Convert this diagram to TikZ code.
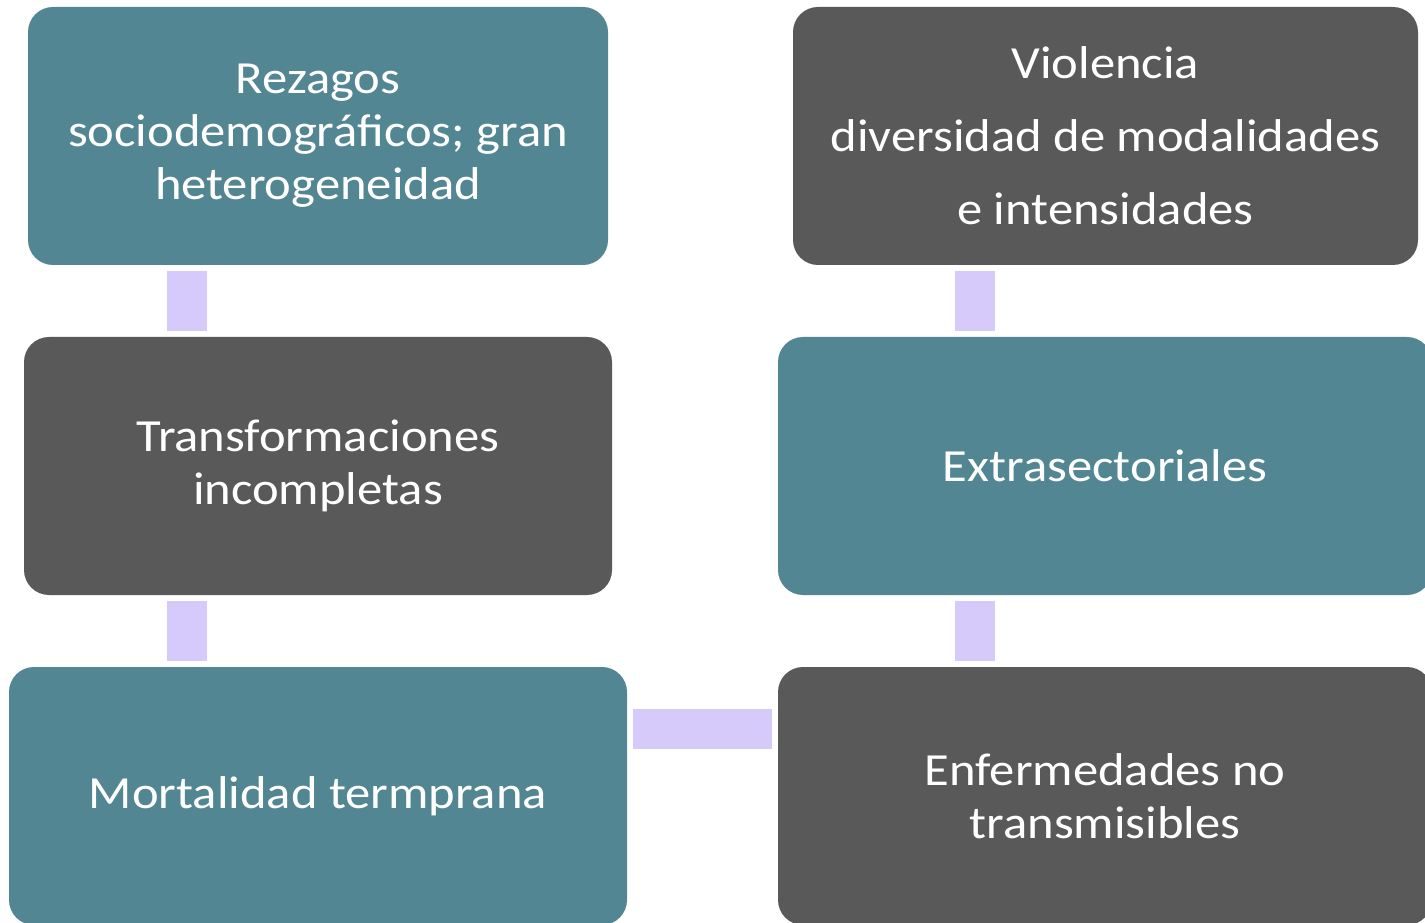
\documentclass[tikz,border=0pt]{standalone}
\usepackage{fontspec}
\setmainfont[FakeStretch=1.1]{Carlito}
\usepackage{tikz}
\usetikzlibrary{positioning,calc}
\definecolor{teal}{HTML}{528692}
\definecolor{slate}{HTML}{595959}
\definecolor{lilac}{HTML}{D5CAFA}

\begin{document}
\begin{tikzpicture}[
  x=0.75pt,y=-0.75pt,
  font=\fontsize{34.5pt}{39.75pt}\selectfont,
  box/.style={rounded corners=18.75pt,align=center,text=white,minimum height=193.5pt,inner sep=0pt},
  tealbox/.style={box,fill=teal},
  greybox/.style={box,fill=slate},
  link/.style={lilac,line width=30pt,shorten <=4.5pt,shorten >=4.5pt}]
\clip (0,0) rectangle (1425,923);
\node[tealbox,minimum width=435pt] (rezagos) at (318,136) {Rezagos\\sociodemográficos; gran\\heterogeneidad};
\node[greybox,minimum width=441pt] (transf) at (318,466) {Transformaciones\\incompletas};
\node[tealbox,minimum width=463.5pt] (mortal) at (318,796) {Mortalidad termprana};
\node[greybox,minimum width=468.75pt,font=\fontsize{34.5pt}{54.75pt}\selectfont] (violencia) at (1105.5,136) {Violencia\\diversidad de modalidades\\e intensidades};
\node[tealbox,minimum width=490.5pt] (extra) at (1105,466) {Extrasectoriales};
\node[greybox,minimum width=490.5pt] (enferm) at (1105,796) {Enfermedades no\\transmisibles};
\coordinate (lx) at (187,0);
\coordinate (rx) at (975,0);
\coordinate (hy) at (0,728.5);
\draw[link] (rezagos.south -| lx) -- (transf.north -| lx);
\draw[link] (transf.south -| lx) -- (mortal.north -| lx);
\draw[link] (violencia.south -| rx) -- (extra.north -| rx);
\draw[link] (extra.south -| rx) -- (enferm.north -| rx);
\draw[link] (mortal.east |- hy) -- (enferm.west |- hy);
\end{tikzpicture}
\end{document}
